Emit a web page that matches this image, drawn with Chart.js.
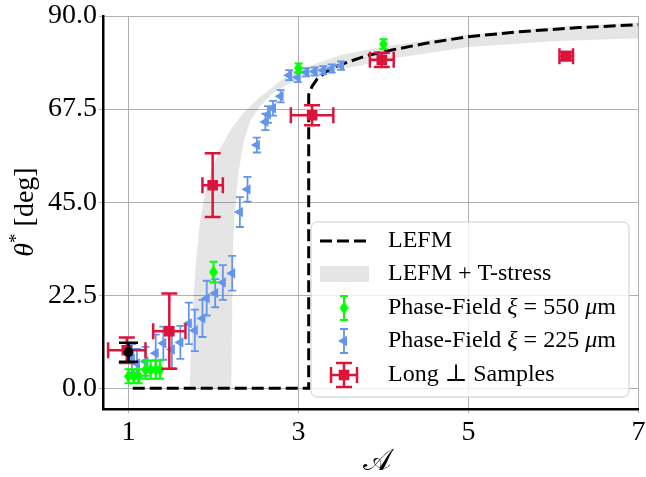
<!DOCTYPE html>
<html>
<head>
<meta charset="utf-8">
<script src="https://cdn.jsdelivr.net/npm/chart.js@4/dist/chart.umd.min.js"></script>
<style>
  body { margin: 0; background: #fff; }
  canvas { display: block; }
</style>
</head>
<body>
<canvas id="chart" width="646" height="477" style="width:646px;height:477px"></canvas>
<script>
// axis ticks
const xTicks = [1, 3, 5, 7];
const yTicks = [0, 22.5, 45, 67.5, 90];

// LEFM curve
const lefmX = [1.05, 3.12, 3.12, 3.16, 3.22, 3.33, 3.45, 3.6, 3.8, 4.1, 4.5, 5.0, 5.6, 6.3, 7.0];
const lefmY = [0, 0, 71, 73, 74.8, 76.6, 77.9, 79.0, 80.4, 81.8, 83.4, 85.0, 86.2, 87.2, 87.9];

// LEFM + T-stress band (upper/left edge, then lower/right edge)
const bandUpX = [1.72, 1.73, 1.75, 1.77, 1.80, 1.84, 1.90, 1.98, 2.08, 2.2, 2.35, 2.55, 2.8, 3.0, 3.5, 4.0, 5.0, 6.0, 7.0];
const bandUpY = [0, 8, 16, 24, 32, 40, 47, 53, 58, 62.5, 66.5, 70.5, 74.5, 77, 80.6, 82.6, 85.5, 87.3, 88.4];
const bandLoX = [7.0, 6.0, 5.0, 4.0, 3.71, 3.4, 3.1, 2.9, 2.7, 2.55, 2.44, 2.36, 2.30, 2.26, 2.23, 2.22, 2.21];
const bandLoY = [84.6, 83.9, 82.5, 79.4, 77.9, 76.8, 75.4, 73.8, 71.3, 68.3, 65, 60, 53, 45, 35, 19, 0];

// Phase-Field xi = 550 um
const pf550X = [1.00, 1.06, 1.12, 1.20, 1.26, 1.32, 1.37, 2.0, 3.0, 4.0];
const pf550Y = [2.9, 2.9, 2.9, 4.5, 4.5, 4.5, 4.5, 28.1, 77.4, 83.2];
const pf550Err = [1.7, 1.7, 1.7, 2.2, 2.2, 2.2, 2.2, 2.5, 1.1, 1.2];

// Phase-Field xi = 225 um
const pf225X = [1.04, 1.10, 1.20, 1.32, 1.41, 1.51, 1.61, 1.71, 1.78, 1.87, 1.92, 2.02, 2.11, 2.22,
                2.31, 2.40, 2.51, 2.61, 2.64, 2.70, 2.79, 2.89, 2.99, 3.09, 3.19, 3.29, 3.39, 3.50];
const pf225Y = [7.2, 6.0, 6.5, 8.5, 10.9, 9.4, 11.1, 15.7, 14.0, 16.9, 21.8, 23.0, 25.6, 27.8,
                42.6, 48.1, 58.8, 64.4, 66.2, 67.7, 70.6, 75.7, 75.2, 76.4, 76.6, 76.9, 77.3, 78.0];
const pf225Err = [3.5, 3.5, 3.5, 4.5, 4.0, 4.5, 4.0, 5.0, 5.0, 4.5, 4.2, 3.4, 4.2, 4.2,
                  3.6, 3.0, 1.8, 2.0, 2.0, 1.8, 1.5, 1.2, 1.2, 1.0, 1.0, 1.0, 1.0, 1.0];

// Long perpendicular samples
const longX = [0.98, 1.48, 1.99, 3.16, 3.98, 6.15];
const longY = [9.2, 13.8, 49.1, 66.0, 79.4, 80.3];
const longXErr = [0.22, 0.19, 0.12, 0.25, 0.14, 0.08];
const longYErr = [3.1, 9.1, 7.7, 2.4, 1.7, 1.0];

// extra black reference point
const refX = [1.0];
const refY = [8.7];
const refErr = [2.3];

const RED = '#dc143c', BLUE = '#6495ed', GREEN = '#00ff00';
const SERIF = '"Liberation Serif", "DejaVu Serif", serif';

const pts = (xs, ys) => xs.map((x, i) => ({x: x, y: ys[i]}));

// thin diamond marker
function thinDiamond(color) {
  const c = document.createElement('canvas');
  c.width = 9; c.height = 13;
  const g = c.getContext('2d');
  g.fillStyle = color;
  g.beginPath();
  g.moveTo(4.5, 0); g.lineTo(9, 6.5); g.lineTo(4.5, 13); g.lineTo(0, 6.5);
  g.closePath(); g.fill();
  return c;
}
const diamond = thinDiamond(GREEN);

// error bars drawn under each dataset's markers
const errorBars = {
  id: 'errorBars',
  beforeDatasetDraw(chart, args) {
    const ds = chart.data.datasets[args.index];
    if (!ds.errY && !ds.errX) return;
    const xs = chart.scales.x, ys = chart.scales.y, ctx = chart.ctx;
    ctx.save();
    ctx.strokeStyle = ds.errColor;
    ctx.lineWidth = ds.errWidth;
    ds.data.forEach((p, i) => {
      const px = xs.getPixelForValue(p.x), py = ys.getPixelForValue(p.y);
      const c = ds.cap;
      ctx.beginPath();
      if (ds.errY) {
        const y0 = ys.getPixelForValue(p.y - ds.errY[i]);
        const y1 = ys.getPixelForValue(p.y + ds.errY[i]);
        ctx.moveTo(px, y0); ctx.lineTo(px, y1);
        ctx.moveTo(px - c, y0); ctx.lineTo(px + c, y0);
        ctx.moveTo(px - c, y1); ctx.lineTo(px + c, y1);
      }
      if (ds.errX) {
        const x0 = xs.getPixelForValue(p.x - ds.errX[i]);
        const x1 = xs.getPixelForValue(p.x + ds.errX[i]);
        ctx.moveTo(x0, py); ctx.lineTo(x1, py);
        ctx.moveTo(x0, py - c); ctx.lineTo(x0, py + c);
        ctx.moveTo(x1, py - c); ctx.lineTo(x1, py + c);
      }
      ctx.stroke();
    });
    ctx.restore();
  }
};

// draw a line of text made of plain / italic pieces
function drawRuns(ctx, runs, x, y, size) {
  runs.forEach(r => {
    const s = r.size || size;
    ctx.font = (r.italic ? 'italic ' : '') + s + 'px ' + SERIF;
    ctx.fillText(r.t, x, y - (r.rise || 0));
    x += ctx.measureText(r.t).width;
  });
  return x;
}
function runsWidth(ctx, runs, size) {
  let w = 0;
  runs.forEach(r => {
    ctx.font = (r.italic ? 'italic ' : '') + (r.size || size) + 'px ' + SERIF;
    w += ctx.measureText(r.t).width;
  });
  return w;
}

const labels = {
  id: 'labels',
  afterDraw(chart) {
    const ctx = chart.ctx;
    ctx.save();
    ctx.fillStyle = '#000';
    ctx.textBaseline = 'middle';
    ctx.textAlign = 'left';

    // y title
    const yRuns = [{t: 'θ', italic: true}, {t: '*', size: 19, rise: 9}, {t: ' [deg]'}];
    ctx.save();
    ctx.translate(26, 212);
    ctx.rotate(-Math.PI / 2);
    drawRuns(ctx, yRuns, -runsWidth(ctx, yRuns, 28) / 2, 0, 28);
    ctx.restore();

    // x title
    ctx.font = '30px "DejaVu Serif", "DejaVu Sans", serif';
    ctx.textAlign = 'center';
    ctx.fillText('𝒜', 377, 462);
    ctx.textAlign = 'left';

    // legend
    const bx = 311, by = 222, bw = 318, bh = 175;
    ctx.beginPath();
    ctx.roundRect(bx, by, bw, bh, 6);
    ctx.fillStyle = 'rgba(255,255,255,0.8)';
    ctx.fill();
    ctx.strokeStyle = '#cccccc';
    ctx.lineWidth = 1;
    ctx.stroke();

    const hx = 344, tx = 388;
    const rows = [241, 274, 308, 341, 375];
    // LEFM
    ctx.strokeStyle = '#000';
    ctx.lineWidth = 3;
    ctx.setLineDash([12, 5]);
    ctx.beginPath(); ctx.moveTo(320, rows[0]); ctx.lineTo(369, rows[0]); ctx.stroke();
    ctx.setLineDash([]);
    // band
    ctx.fillStyle = 'rgba(0,0,0,0.1)';
    ctx.fillRect(320, rows[1] - 8, 49, 16);
    // error-bar handles
    function vbar(y, color, w, cap, half) {
      ctx.strokeStyle = color; ctx.lineWidth = w;
      ctx.beginPath();
      ctx.moveTo(hx, y - half); ctx.lineTo(hx, y + half);
      ctx.moveTo(hx - cap, y - half); ctx.lineTo(hx + cap, y - half);
      ctx.moveTo(hx - cap, y + half); ctx.lineTo(hx + cap, y + half);
      ctx.stroke();
    }
    vbar(rows[2], GREEN, 2, 4, 12);
    ctx.drawImage(diamond, hx - 4.5, rows[2] - 6.5);
    vbar(rows[3], BLUE, 1.8, 4, 12);
    ctx.fillStyle = BLUE;
    ctx.beginPath();
    ctx.moveTo(hx - 6, rows[3]); ctx.lineTo(hx + 3, rows[3] - 5.2); ctx.lineTo(hx + 3, rows[3] + 5.2);
    ctx.closePath(); ctx.fill();
    vbar(rows[4], RED, 2.5, 8, 12);
    ctx.beginPath();
    ctx.moveTo(hx - 13, rows[4]); ctx.lineTo(hx + 13, rows[4]);
    ctx.moveTo(hx - 13, rows[4] - 8); ctx.lineTo(hx - 13, rows[4] + 8);
    ctx.moveTo(hx + 13, rows[4] - 8); ctx.lineTo(hx + 13, rows[4] + 8);
    ctx.stroke();
    ctx.fillStyle = RED;
    ctx.fillRect(hx - 5.3, rows[4] - 5.3, 10.6, 10.6);

    ctx.fillStyle = '#000';
    const fs = 24;
    drawRuns(ctx, [{t: 'LEFM'}], tx, rows[0], fs);
    drawRuns(ctx, [{t: 'LEFM + T-stress'}], tx, rows[1], fs);
    drawRuns(ctx, [{t: 'Phase-Field '}, {t: 'ξ', italic: true}, {t: ' = 550 '}, {t: 'μ', italic: true}, {t: 'm'}], tx, rows[2], fs);
    drawRuns(ctx, [{t: 'Phase-Field '}, {t: 'ξ', italic: true}, {t: ' = 225 '}, {t: 'μ', italic: true}, {t: 'm'}], tx, rows[3], fs);
    drawRuns(ctx, [{t: 'Long ⊥ Samples'}], tx, rows[4], fs);
    ctx.restore();
  }
};

const ctx = document.getElementById('chart').getContext('2d');
const chart = new Chart(ctx, {
  type: 'scatter',
  data: {
    datasets: [
      {
        label: 'ref',
        data: pts(refX, refY),
        errY: refErr, errColor: '#000', errWidth: 2.5, cap: 9.5,
        pointStyle: 'circle', pointRadius: 5, backgroundColor: '#000', borderWidth: 0,
        order: 0
      },
      {
        label: 'Long ⊥ Samples',
        data: pts(longX, longY),
        errX: longXErr, errY: longYErr, errColor: RED, errWidth: 2.5, cap: 8,
        pointStyle: 'rect', pointRadius: 7.5, backgroundColor: RED, borderWidth: 0,
        order: 1
      },
      {
        label: 'Phase-Field ξ = 550 μm',
        data: pts(pf550X, pf550Y),
        errY: pf550Err, errColor: GREEN, errWidth: 2, cap: 4,
        pointStyle: diamond, pointRadius: 6, backgroundColor: GREEN, borderWidth: 0,
        order: 2
      },
      {
        label: 'Phase-Field ξ = 225 μm',
        data: pts(pf225X, pf225Y),
        errY: pf225Err, errColor: BLUE, errWidth: 1.8, cap: 4,
        pointStyle: 'triangle', rotation: -90, pointRadius: 6, backgroundColor: BLUE, borderWidth: 0,
        order: 3
      },
      {
        label: 'LEFM',
        data: pts(lefmX, lefmY),
        showLine: true, borderColor: '#000', borderWidth: 3, borderDash: [12, 5],
        pointRadius: 0, fill: false,
        order: 4
      },
      {
        label: 'LEFM + T-stress',
        data: pts(bandUpX.concat(bandLoX), bandUpY.concat(bandLoY)),
        showLine: true, borderWidth: 0, backgroundColor: 'rgba(0,0,0,0.1)',
        pointRadius: 0, fill: 'shape',
        order: 5
      }
    ]
  },
  options: {
    responsive: false,
    animation: false,
    devicePixelRatio: 1,
    layout: { padding: { top: 16, right: 5, left: 0, bottom: 0 } },
    plugins: { legend: { display: false }, tooltip: { enabled: false } },
    font: { family: SERIF },
    scales: {
      x: {
        type: 'linear', min: 0.7, max: 7,
        afterBuildTicks: s => { s.ticks = xTicks.map(v => ({ value: v })); },
        afterFit: s => { s.height = 68; s.paddingLeft = 0; s.paddingRight = 0; },
        grid: { color: '#b0b0b0', lineWidth: 1, tickLength: 4, tickColor: '#b0b0b0' },
        border: { color: '#000', width: 2.5 },
        ticks: { color: '#000', padding: 3, maxRotation: 0, font: { family: SERIF, size: 28 }, callback: v => String(v) }
      },
      y: {
        type: 'linear', min: -5, max: 90,
        afterBuildTicks: s => { s.ticks = yTicks.map(v => ({ value: v })); },
        afterFit: s => { s.width = 103; s.paddingTop = 0; s.paddingBottom = 0; },
        grid: { color: '#b0b0b0', lineWidth: 1, tickLength: 4, tickColor: '#b0b0b0' },
        border: { color: '#000', width: 2.5 },
        ticks: { color: '#000', padding: 2, font: { family: SERIF, size: 28 }, callback: v => v.toFixed(1) }
      }
    }
  },
  plugins: [errorBars, labels]
});
</script>
</body>
</html>
